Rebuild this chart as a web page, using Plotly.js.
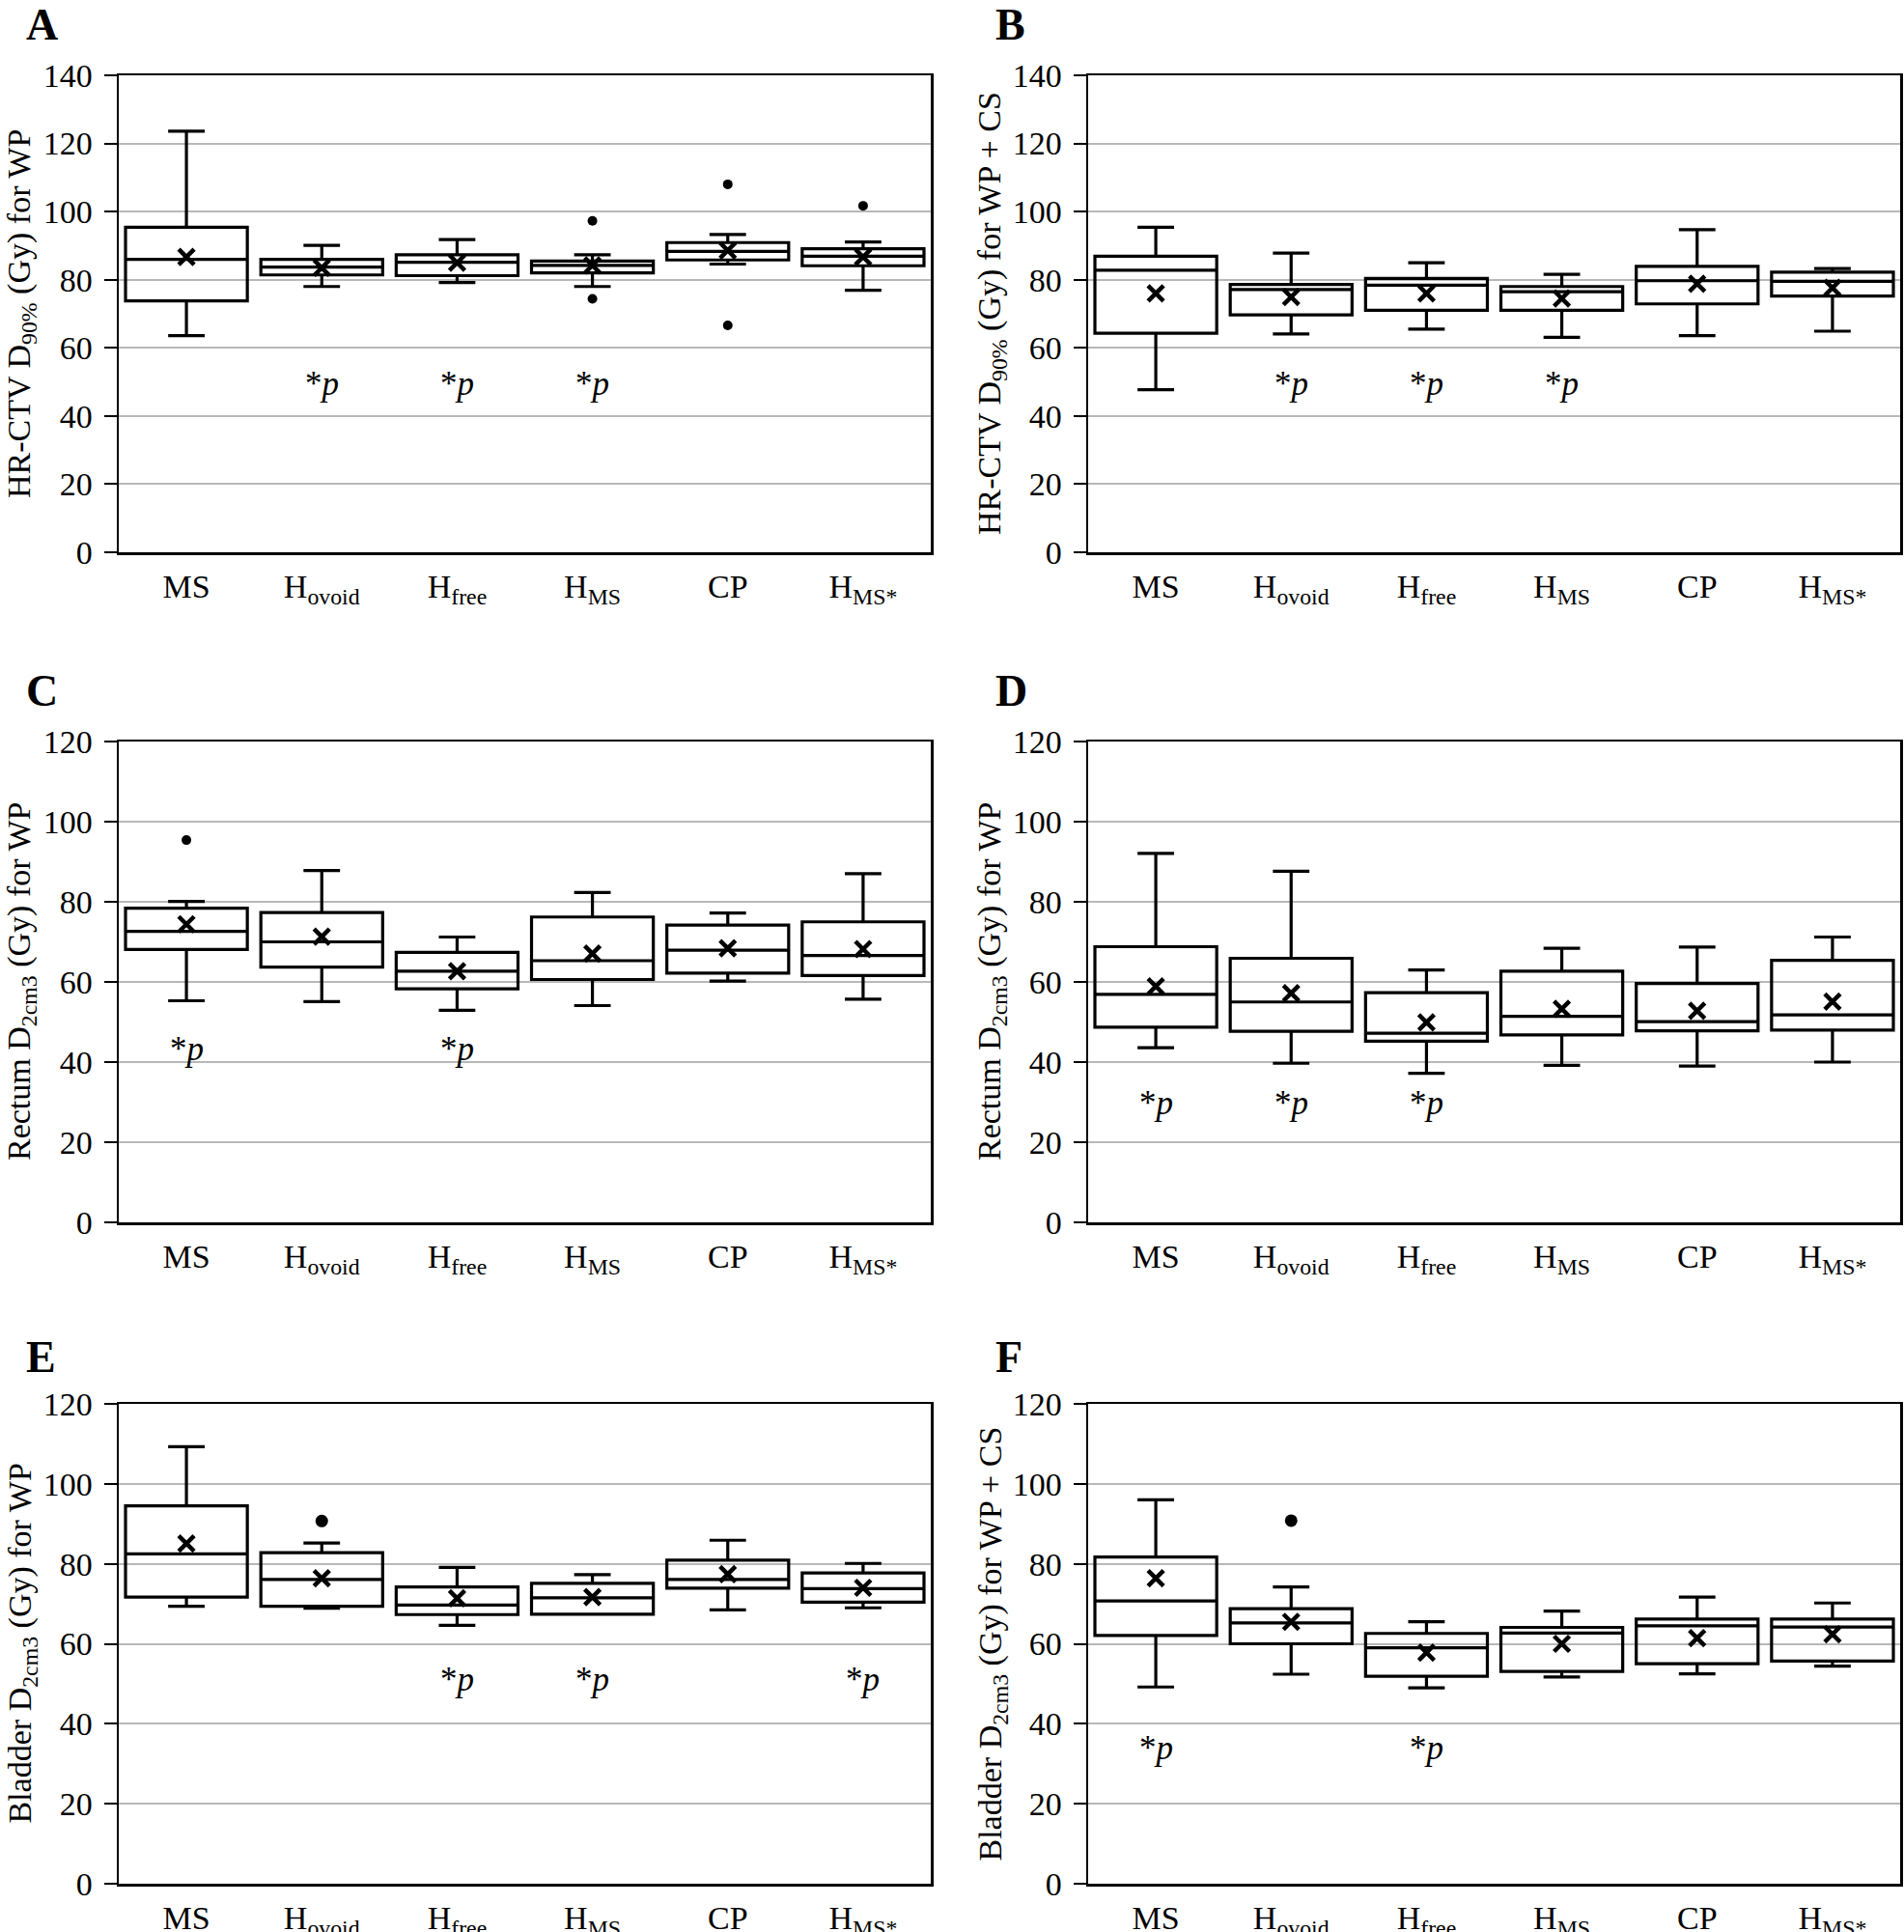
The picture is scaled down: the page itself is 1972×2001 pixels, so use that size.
<!DOCTYPE html>
<html>
<head>
<meta charset="utf-8">
<script src="https://cdn.plot.ly/plotly-3.0.1.min.js"></script>
<style>html,body{margin:0;padding:0;background:#fff;}#chart{width:1972px;height:2001px;}</style>
</head>
<body>
<div id="chart"></div>
<script>
// ---------- data ----------
const categories = ['MS', 'Hovoid', 'Hfree', 'HMS', 'CP', 'HMS*'];
const tickLabels = ['MS', 'H<sub>ovoid</sub>', 'H<sub>free</sub>', 'H<sub>MS</sub>', 'CP', 'H<sub>MS*</sub>'];

// Panel A: HR-CTV D90% for WP
const aLow  = [63.6, 78.0, 79.2, 78.0, 84.6, 76.9];
const aQ1   = [73.8, 81.4, 81.2, 82.0, 85.8, 84.1];
const aMed  = [86.0, 83.7, 85.1, 84.2, 88.3, 86.9];
const aQ3   = [95.4, 86.0, 87.3, 85.5, 90.9, 89.1];
const aHigh = [123.6, 90.1, 91.8, 87.3, 93.3, 91.1];
const aMean = [86.7, 83.5, 85.0, 84.2, 88.6, 86.7];
const aOutCat = ['HMS', 'HMS', 'CP', 'CP', 'HMS*'];
const aOutVal = [97.3, 74.4, 108.0, 66.6, 101.7];
const aSigCat = ['Hovoid', 'Hfree', 'HMS'];
const aSigY = 49.5;

// Panel B: HR-CTV D90% for WP + CS
const bLow  = [47.7, 64.1, 65.5, 63.1, 63.6, 64.9];
const bQ1   = [64.3, 69.7, 71.0, 71.0, 72.9, 75.2];
const bMed  = [82.8, 77.1, 78.4, 76.5, 79.7, 79.5];
const bQ3   = [86.9, 78.6, 80.4, 78.0, 83.9, 82.2];
const bHigh = [95.4, 87.8, 85.0, 81.6, 94.7, 83.3];
const bMean = [76.0, 74.9, 76.0, 74.5, 78.8, 77.6];
const bOutCat = [];
const bOutVal = [];
const bSigCat = ['Hovoid', 'Hfree', 'HMS'];
const bSigY = 49.5;

// Panel C: Rectum D2cm3 for WP
const cLow  = [55.3, 55.1, 52.9, 54.1, 60.2, 55.7];
const cQ1   = [68.1, 63.7, 58.3, 60.6, 62.2, 61.6];
const cMed  = [72.6, 70.0, 62.7, 65.3, 67.9, 66.6];
const cQ3   = [78.4, 77.3, 67.4, 76.2, 74.2, 75.0];
const cHigh = [80.1, 87.8, 71.2, 82.3, 77.2, 87.0];
const cMean = [74.4, 71.3, 62.7, 67.1, 68.4, 68.2];
const cOutCat = ['MS'];
const cOutVal = [95.4];
const cSigCat = ['MS', 'Hfree'];
const cSigY = 43.3;

// Panel D: Rectum D2cm3 for WP (second)
const dLow  = [43.6, 39.7, 37.2, 39.2, 39.0, 40.0];
const dQ1   = [48.7, 47.7, 45.2, 46.8, 47.8, 48.0];
const dMed  = [56.9, 55.0, 47.2, 51.4, 50.1, 51.8];
const dQ3   = [68.8, 65.9, 57.3, 62.7, 59.6, 65.4];
const dHigh = [92.1, 87.6, 63.0, 68.4, 68.7, 71.2];
const dMean = [58.9, 57.2, 49.9, 53.3, 52.8, 55.1];
const dOutCat = [];
const dOutVal = [];
const dSigCat = ['MS', 'Hovoid', 'Hfree'];
const dSigY = 29.8;

// Panel E: Bladder D2cm3 for WP
const eLow  = [69.4, 68.9, 64.6, 67.4, 68.5, 69.0];
const eQ1   = [71.7, 69.4, 67.3, 67.4, 73.9, 70.4];
const eMed  = [82.5, 76.1, 69.7, 71.5, 76.1, 73.8];
const eQ3   = [94.5, 82.8, 74.2, 75.1, 80.9, 77.7];
const eHigh = [109.3, 85.2, 79.1, 77.3, 85.9, 80.1];
const eMean = [85.1, 76.4, 71.4, 71.7, 77.4, 74.0];
const eOutCat = ['Hovoid'];
const eOutVal = [90.7];
const eSigCat = ['Hfree', 'HMS', 'HMS*'];
const eSigY = 51;

// Panel F: Bladder D2cm3 for WP + CS
const fLow  = [49.2, 52.4, 49.0, 51.7, 52.5, 54.4];
const fQ1   = [62.1, 60.0, 51.9, 53.1, 55.0, 55.7];
const fMed  = [70.7, 65.2, 59.0, 62.7, 64.5, 64.2];
const fQ3   = [81.7, 68.8, 62.6, 64.1, 66.2, 66.2];
const fHigh = [96.0, 74.2, 65.5, 68.2, 71.7, 70.2];
const fMean = [76.4, 65.5, 57.8, 60.0, 61.4, 62.4];
const fOutCat = ['Hovoid'];
const fOutVal = [90.8];
const fSigCat = ['MS', 'Hfree'];
const fSigY = 34;

const panelLetters = ['A', 'B', 'C', 'D', 'E', 'F'];
const yTitles = [
  'HR-CTV D<sub>90%</sub> (Gy) for WP',
  'HR-CTV D<sub>90%</sub> (Gy) for WP + CS',
  'Rectum D<sub>2cm3</sub> (Gy) for WP',
  'Rectum D<sub>2cm3</sub> (Gy) for WP',
  'Bladder D<sub>2cm3</sub> (Gy) for WP',
  'Bladder D<sub>2cm3</sub> (Gy) for WP + CS'
];
const yMax = [140, 140, 120, 120, 120, 120];

// ---------- layout geometry ----------
const W = 1972, H = 2001;
const FONT = 'Liberation Serif, Times New Roman, serif';
const colX = [[123, 964], [1127, 1968]];
const rowY = [[78, 572], [768, 1266], [1454, 1951]];
const letterTop = [-2, 688, 1378];
const letterX = [25, 1029];
const titleX = [22, 1027];
const outSize = [10, 10, 10, 10, 13, 13];

const panels = [
  [aLow, aQ1, aMed, aQ3, aHigh, aMean, aOutCat, aOutVal, aSigCat, aSigY],
  [bLow, bQ1, bMed, bQ3, bHigh, bMean, bOutCat, bOutVal, bSigCat, bSigY],
  [cLow, cQ1, cMed, cQ3, cHigh, cMean, cOutCat, cOutVal, cSigCat, cSigY],
  [dLow, dQ1, dMed, dQ3, dHigh, dMean, dOutCat, dOutVal, dSigCat, dSigY],
  [eLow, eQ1, eMed, eQ3, eHigh, eMean, eOutCat, eOutVal, eSigCat, eSigY],
  [fLow, fQ1, fMed, fQ3, fHigh, fMean, fOutCat, fOutVal, fSigCat, fSigY]
];

const data = [];
const layout = {
  width: W, height: H,
  margin: {l: 0, r: 0, t: 0, b: 0, pad: 0},
  paper_bgcolor: '#ffffff', plot_bgcolor: '#ffffff',
  showlegend: false,
  font: {family: FONT, color: '#000'},
  boxmode: 'overlay',
  annotations: []
};

panels.forEach((p, i) => {
  const [lo, q1, med, q3, hi, mean, oc, ov, sc, sy] = p;
  const n = i + 1;
  const xa = n === 1 ? 'x' : 'x' + n;
  const ya = n === 1 ? 'y' : 'y' + n;
  const col = i % 2, row = Math.floor(i / 2);

  data.push({
    type: 'box', xaxis: xa, yaxis: ya,
    x: categories, q1: q1, median: med, q3: q3,
    lowerfence: lo, upperfence: hi,
    boxpoints: false, width: 0.9, whiskerwidth: 0.3,
    fillcolor: 'rgba(255,255,255,0)',
    line: {color: '#000', width: 3.2},
    hoverinfo: 'skip'
  });
  data.push({
    type: 'scatter', mode: 'markers', xaxis: xa, yaxis: ya,
    x: categories, y: mean,
    marker: {symbol: 'x-thin', size: 16, color: '#000', line: {color: '#000', width: 4.5}},
    hoverinfo: 'skip'
  });
  if (oc.length) {
    data.push({
      type: 'scatter', mode: 'markers', xaxis: xa, yaxis: ya,
      x: oc, y: ov,
      marker: {symbol: 'circle', size: outSize[i], color: '#000'},
      hoverinfo: 'skip'
    });
  }

  const xkey = n === 1 ? 'xaxis' : 'xaxis' + n;
  const ykey = n === 1 ? 'yaxis' : 'yaxis' + n;
  layout[xkey] = {
    domain: [colX[col][0] / W, colX[col][1] / W],
    anchor: ya, type: 'category',
    categoryorder: 'array', categoryarray: categories,
    tickvals: categories, ticktext: tickLabels,
    range: [-0.5, 5.5],
    showline: true, mirror: true, linecolor: '#000', linewidth: 2.5,
    ticks: '', showgrid: false, zeroline: false,
    tickfont: {family: FONT, size: 34, color: '#000'},
    ticklabelstandoff: 4,
    fixedrange: true
  };
  layout[ykey] = {
    domain: [1 - rowY[row][1] / H, 1 - rowY[row][0] / H],
    anchor: xa,
    range: [0, yMax[i]], dtick: 20, tick0: 0,
    showline: true, mirror: true, linecolor: '#000', linewidth: 2.5,
    ticks: 'outside', ticklen: 13, tickwidth: 2, tickcolor: '#000',
    showgrid: true, gridcolor: '#b8b8b8', gridwidth: 2,
    zeroline: false,
    tickfont: {family: FONT, size: 34, color: '#000'},
    ticklabelstandoff: 5,
    fixedrange: true
  };

  // significance marks
  sc.forEach(c => {
    layout.annotations.push({
      xref: xa, yref: ya, x: c, y: sy,
      text: '*<i>p</i>', showarrow: false,
      xanchor: 'center', yanchor: 'middle',
      font: {family: FONT, size: 35, color: '#000'}
    });
  });
  // y-axis title
  layout.annotations.push({
    xref: 'paper', yref: 'paper',
    x: titleX[col] / W, y: 1 - (rowY[row][0] + rowY[row][1]) / 2 / H,
    text: yTitles[i], textangle: -90, showarrow: false,
    xanchor: 'center', yanchor: 'middle',
    font: {family: FONT, size: 34, color: '#000'}
  });
  // panel letter
  layout.annotations.push({
    xref: 'paper', yref: 'paper',
    x: letterX[col] / W, y: 1 - letterTop[row] / H,
    text: '<b>' + panelLetters[i] + '</b>', showarrow: false,
    xanchor: 'left', yanchor: 'top',
    font: {family: FONT, size: 46, color: '#000'}
  });
});

Plotly.newPlot('chart', data, layout, {staticPlot: true, displayModeBar: false});
</script>
</body>
</html>
